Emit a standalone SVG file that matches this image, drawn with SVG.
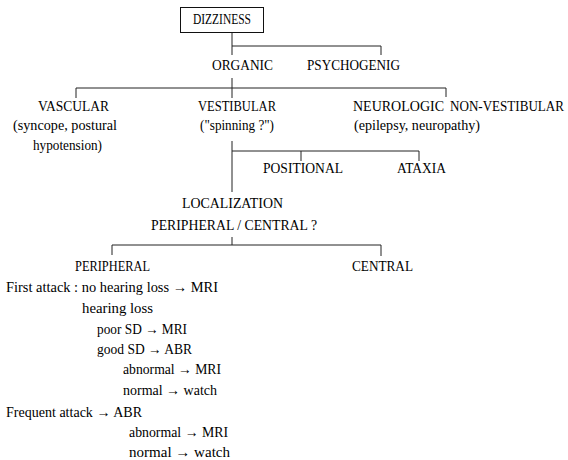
<svg xmlns="http://www.w3.org/2000/svg" width="568" height="460" viewBox="0 0 568 460">
<style>
text{font-family:"Liberation Serif","DejaVu Serif",serif;font-size:15px;fill:#000}
.c{font-size:14.5px}
.n{font-size:13.6px}
.ln line{stroke:#222;stroke-width:1;fill:none}
.box{fill:#fff;stroke:#111;stroke-width:1}
</style>
<rect width="568" height="460" fill="#fff"/>
<g id="connectors" class="ln">
<line x1="232" y1="32" x2="232" y2="55"/>
<line x1="232" y1="46" x2="381" y2="46"/>
<line x1="381" y1="46" x2="381" y2="55"/>
<line x1="232" y1="78" x2="232" y2="98"/>
<line x1="76" y1="88" x2="446" y2="88"/>
<line x1="76" y1="88" x2="76" y2="98"/>
<line x1="446" y1="88" x2="446" y2="97"/>
<line x1="232" y1="141" x2="232" y2="192"/>
<line x1="232" y1="151" x2="419" y2="151"/>
<line x1="301" y1="151" x2="301" y2="161"/>
<line x1="419" y1="151" x2="419" y2="161"/>
<line x1="232" y1="237" x2="232" y2="245"/>
<line x1="112" y1="245" x2="381" y2="245"/>
<line x1="112" y1="245" x2="112" y2="255"/>
<line x1="381" y1="245" x2="381" y2="256"/>
</g>
<g id="dizziness"><rect class="box" x="180.5" y="7.5" width="83" height="25"/><text class="c" x="193" y="24" textLength="58" lengthAdjust="spacingAndGlyphs">DIZZINESS</text></g>
<g id="organic"><text class="c" x="212" y="70" textLength="61" lengthAdjust="spacingAndGlyphs">ORGANIC</text></g>
<g id="psychogenig"><text class="c" x="307" y="70" textLength="93" lengthAdjust="spacingAndGlyphs">PSYCHOGENIG</text></g>
<g id="vascular">
<text class="c" x="38" y="111" textLength="71" lengthAdjust="spacingAndGlyphs">VASCULAR</text>
<text x="13" y="130" textLength="104" lengthAdjust="spacingAndGlyphs">(syncope, postural</text>
<text x="33" y="150" textLength="69" lengthAdjust="spacingAndGlyphs">hypotension)</text>
</g>
<g id="vestibular">
<text class="c" x="198" y="111" textLength="78" lengthAdjust="spacingAndGlyphs">VESTIBULAR</text>
<text x="200" y="130" textLength="74" lengthAdjust="spacingAndGlyphs">("spinning ?")</text>
</g>
<g id="neurologic">
<text class="c" x="353" y="111" textLength="91" lengthAdjust="spacingAndGlyphs">NEUROLOGIC</text>
<text class="n" x="450" y="111" textLength="114" lengthAdjust="spacingAndGlyphs">NON-VESTIBULAR</text>
<text x="354" y="130" textLength="126" lengthAdjust="spacingAndGlyphs">(epilepsy, neuropathy)</text>
</g>
<g id="positional"><text class="c" x="263" y="173" textLength="80" lengthAdjust="spacingAndGlyphs">POSITIONAL</text></g>
<g id="ataxia"><text class="c" x="397" y="173" textLength="49" lengthAdjust="spacingAndGlyphs">ATAXIA</text></g>
<g id="localization">
<text class="c" x="182" y="208" textLength="101" lengthAdjust="spacingAndGlyphs">LOCALIZATION</text>
<text class="c" x="151" y="230" textLength="166" lengthAdjust="spacingAndGlyphs">PERIPHERAL / CENTRAL ?</text>
</g>
<g id="peripheral"><text class="c" x="75" y="271" textLength="75" lengthAdjust="spacingAndGlyphs">PERIPHERAL</text></g>
<g id="central"><text class="c" x="352" y="271" textLength="61" lengthAdjust="spacingAndGlyphs">CENTRAL</text></g>
<g id="peripheral-workup">
<text x="6" y="292" textLength="212" lengthAdjust="spacingAndGlyphs">First attack : no hearing loss → MRI</text>
<text x="82" y="313" textLength="71" lengthAdjust="spacingAndGlyphs">hearing loss</text>
<text x="97" y="334" textLength="90" lengthAdjust="spacingAndGlyphs">poor SD → MRI</text>
<text x="97" y="354" textLength="95" lengthAdjust="spacingAndGlyphs">good SD → ABR</text>
<text x="123" y="374" textLength="98" lengthAdjust="spacingAndGlyphs">abnormal → MRI</text>
<text x="123" y="395" textLength="94" lengthAdjust="spacingAndGlyphs">normal → watch</text>
<text x="6" y="417" textLength="136" lengthAdjust="spacingAndGlyphs">Frequent attack → ABR</text>
<text x="129" y="437" textLength="99" lengthAdjust="spacingAndGlyphs">abnormal → MRI</text>
<text x="129" y="457" textLength="101" lengthAdjust="spacingAndGlyphs">normal → watch</text>
</g>
</svg>
